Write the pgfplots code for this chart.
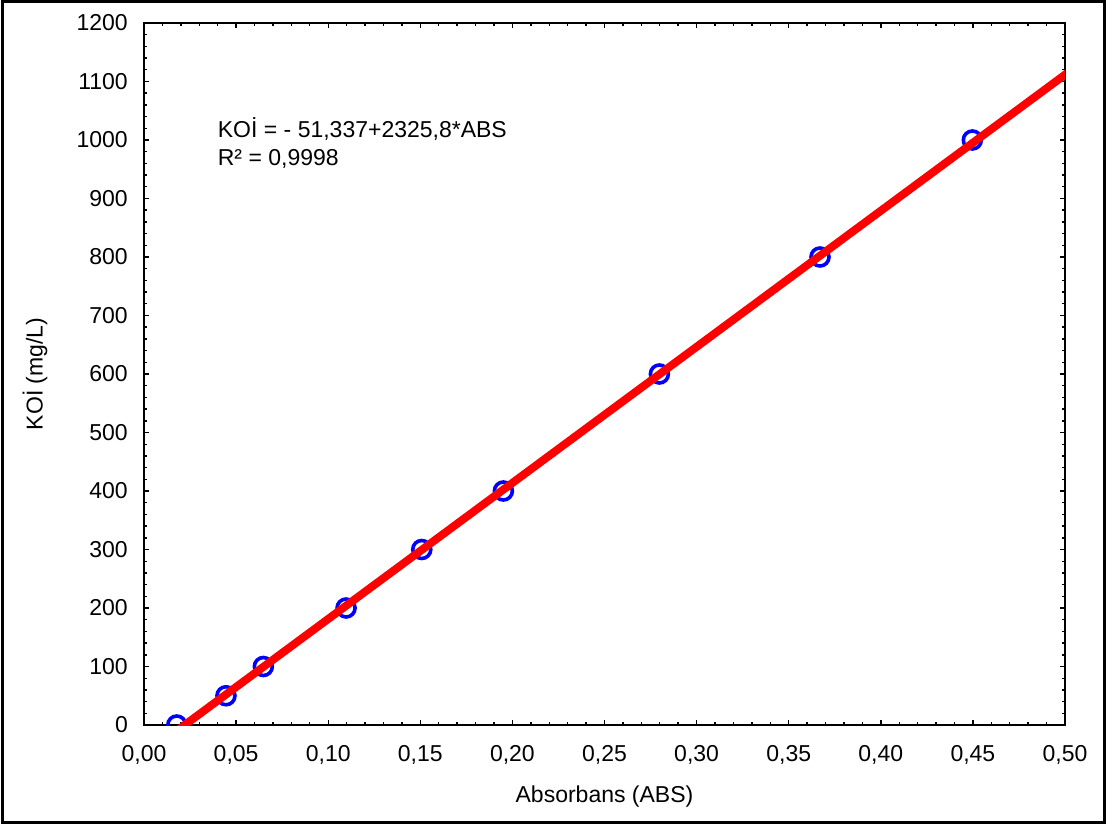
\documentclass[border=0pt]{standalone}
\usepackage{fontspec}
\setmainfont{Liberation Sans}
\usepackage{pgfplots}
\pgfplotsset{compat=1.18}
\definecolor{ptblue}{RGB}{0,0,255}
\definecolor{ptred}{RGB}{255,0,0}
\newcommand{\chartfont}{\fontsize{23}{28}\selectfont}
\begin{document}
\begin{tikzpicture}
\begin{axis}[
  scale only axis,
  width=921pt, height=702pt,
  at={(0pt,0pt)}, anchor=south west,
  xmin=0, xmax=0.5, ymin=0, ymax=1200,
  xtick distance=0.05, ytick distance=100,
  minor x tick num=4, minor y tick num=4,
  tick align=inside,
  major tick length=5pt, minor tick length=3pt,
  every tick/.style={black, line width=1.4pt},
  axis line style={black, line width=2.2pt},
  scaled ticks=false,
  /pgf/number format/assume math mode=true,
  tick label style={font=\chartfont},
  xticklabel style={anchor=north, inner sep=0pt, yshift=-20pt,
    /pgf/number format/.cd, fixed, fixed zerofill, precision=2, use comma},
  yticklabel style={anchor=east, inner sep=0pt, xshift=-16pt,
    /pgf/number format/.cd, 1000 sep={}},
  xlabel={Absorbans (ABS)},
  ylabel={KOİ (mg/L)},
  xlabel style={font=\chartfont, at={(axis description cs:0.5,-0.1026)}, anchor=center},
  ylabel style={font=\chartfont, at={(axis description cs:-0.1183,0.5)}, anchor=center, rotate=0},
  clip=true,
  clip marker paths=true,
]
\addplot[only marks, mark=o, mark size=9pt, ptblue, line width=3.6pt]
  coordinates {
  (0.0178,0) (0.0445,50) (0.0648,100) (0.1097,200) (0.1508,300)
  (0.1951,400) (0.2798,600) (0.3670,800) (0.4497,1000)
  };
\addplot[ptred, line width=8pt, no marks]
  coordinates {(0.0150,-16.45) (0.5050,1123.20)};
\node[anchor=base west, inner sep=0pt, font=\chartfont] at (axis cs:0.0400,1005) {KOİ = - 51,337+2325,8*ABS};
\node[anchor=base west, inner sep=0pt, font=\chartfont] at (axis cs:0.0400,957) {R² = 0,9998};
\end{axis}
\draw[black, line width=3pt] (-141pt,-97.5pt) rectangle (960.5pt,723.5pt);
\pgfresetboundingbox
\path[use as bounding box] (-144pt,-100pt) rectangle (969pt,725pt);
\end{tikzpicture}
\end{document}
